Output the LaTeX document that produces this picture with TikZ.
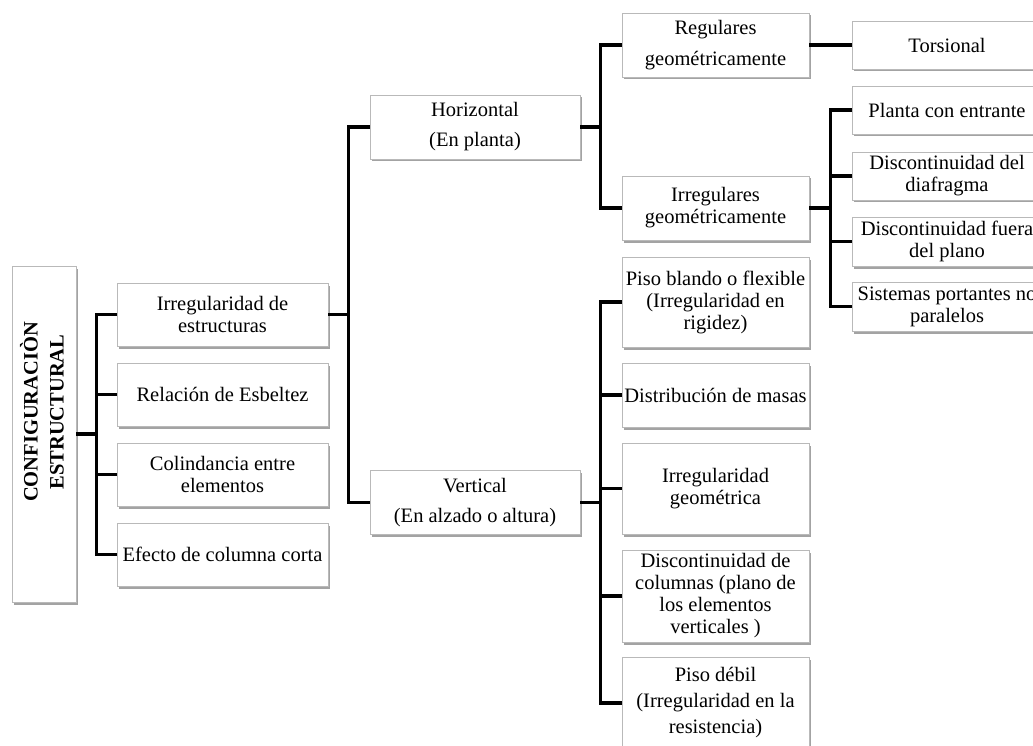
\documentclass[tikz,border=0pt]{standalone}
\usepackage{fontspec}
\setmainfont{Liberation Serif}
\usetikzlibrary{shadows}
\begin{document}
\begin{tikzpicture}[x=1pt,y=-1pt,
	caja/.style={draw=gray!55,fill=white,align=center,inner sep=0pt,
		font=\fontsize{20.5}{22}\selectfont,
		drop shadow={shadow xshift=1.5pt,shadow yshift=-2.5pt,fill=gray!90,opacity=.8}},
	col1/.style={caja,minimum width=211pt,minimum height=63pt},
	col2/.style={caja,minimum width=210pt,minimum height=64pt},
	col3/.style={caja,minimum width=187pt,minimum height=#1},
	col4/.style={caja,minimum width=190pt,minimum height=#1},
	linea/.style={line width=3.3pt,line join=miter}]
	\useasboundingbox (0,0) rectangle (1033,746) ;
	\clip (0,0) rectangle (1033,746) ;
	\fill[white] (0,0) rectangle (1033,746) ;
	\node[caja,minimum width=64pt,minimum height=336pt] (raiz) at (44,434) {} ;
	\node[rotate=90,align=center,font=\fontsize{20.5}{26}\selectfont\bfseries] (titulo) at (42,412) {CONFIGURACIÒN\\ESTRUCTURAL} ;
	\node[col1] (irreg) at (222.5,314.5) {Irregularidad de\\estructuras} ;
	\node[col1] (esbeltez) at (222.5,394.5) {Relación de Esbeltez} ;
	\node[col1] (colind) at (222.5,474.5) {Colindancia entre\\elementos} ;
	\node[col1] (corta) at (222.5,554.5) {Efecto de columna corta} ;
	\node[col2] (horiz) at (475,127) {Horizontal\\[8pt](En planta)} ;
	\node[col2] (vert) at (475,502.5) {Vertical\\[8pt](En alzado o altura)} ;
	\node[col3=64pt] (regul) at (715.5,45) {Regulares\\[9pt]geométricamente} ;
	\node[col3=64pt] (irregg) at (715.5,208) {Irregulares\\geométricamente} ;
	\node[col3=90pt] (blando) at (715.5,302) {Piso blando o flexible\\(Irregularidad en\\rigidez)} ;
	\node[col3=64pt] (masas) at (715.5,395) {Distribución de masas} ;
	\node[col3=91pt] (geom) at (715.5,488.5) {Irregularidad\\geométrica} ;
	\node[col3=92pt] (colum) at (715.5,596) {Discontinuidad de\\columnas (plano de\\los elementos\\verticales )} ;
	\node[col3=92pt] (debil) at (715.5,703) {Piso débil\\[4pt](Irregularidad en la\\[4pt]resistencia)} ;
	\node[col4=48pt] (torsion) at (947,45) {Torsional} ;
	\node[col4=48pt] (entrante) at (947,110) {Planta con entrante} ;
	\node[col4=48pt] (diafragma) at (947,176) {Discontinuidad del\\diafragma} ;
	\node[col4=49pt] (fuera) at (947,241.5) {Discontinuidad fuera\\del plano} ;
	\node[col4=49pt] (portantes) at (947,306.5) {Sistemas portantes no\\paralelos} ;
	\draw[linea] (raiz.east) -- ++(20,0) coordinate (r0) ;
	\foreach \n in {irreg,esbeltez,colind,corta} \draw[linea] (r0) |- (\n.west) ;
	\draw[linea] (irreg.east) -- ++(20,0) coordinate (r1) ;
	\foreach \n in {horiz,vert} \draw[linea] (r1) |- (\n.west) ;
	\draw[linea] (horiz.east) -- ++(20,0) coordinate (r2) ;
	\foreach \n in {regul,irregg} \draw[linea] (r2) |- (\n.west) ;
	\draw[linea] (vert.east) -- ++(20,0) coordinate (r3) ;
	\foreach \n in {blando,masas,geom,colum,debil} \draw[linea] (r3) |- (\n.west) ;
	\draw[linea] (regul.east) -- (torsion.west) ;
	\draw[linea] (irregg.east) -- ++(21,0) coordinate (r4) ;
	\foreach \n in {entrante,diafragma,fuera,portantes} \draw[linea] (r4) |- (\n.west) ;
\end{tikzpicture}
\end{document}
